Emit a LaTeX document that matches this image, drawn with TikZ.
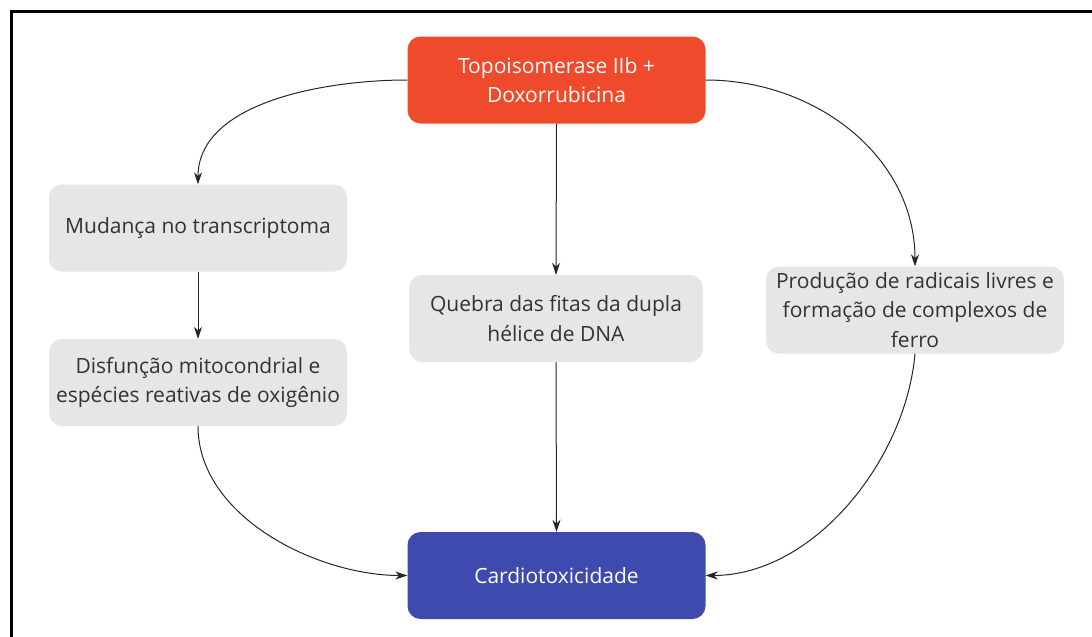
\documentclass[tikz,border=0pt]{standalone}
\usepackage{fontspec}
\setmainfont{Open Sans}
\usetikzlibrary{arrows.meta}
\definecolor{topred}{HTML}{EE4A2B}
\definecolor{botblue}{HTML}{3F4AAF}
\definecolor{boxgray}{HTML}{E4E6E7}
\definecolor{txtgray}{HTML}{333333}
\tikzset{
  box/.style={rounded corners=13pt, minimum width=298pt, minimum height=87pt, align=center, inner sep=1pt, font=\fontsize{21}{29.5}\selectfont},
  graybox/.style={box, fill=boxgray, text=txtgray},
  redbox/.style={box, fill=topred, text=white},
  bluebox/.style={box, fill=botblue, text=white},
  conn/.style={draw=black!85, line width=1pt, -{Stealth[length=12pt,width=8pt]}},
}
\begin{document}
\begin{tikzpicture}[x=1pt,y=-1pt]
\useasboundingbox (0,0) rectangle (1092,637);
\draw[line width=3pt] (11,637) -- (11,11) -- (1092,11);
\node[redbox] (top) at (556.5,80) {Topoisomerase IIb +\\Doxorrubicina};
\node[graybox] (l1) at (198,228) {Mudança no transcriptoma};
\node[graybox] (l2) at (198,382.5) {Disfunção mitocondrial e\\espécies reativas de oxigênio};
\node[graybox, minimum width=294pt] (m) at (556,318.5) {Quebra das fitas da dupla\\hélice de DNA};
\node[graybox, inner sep=0pt] (r) at (915,310) {Produção de radicais livres e\\formação de complexos de\\ferro};
\node[bluebox] (bot) at (556.5,575.5) {Cardiotoxicidade};
\draw[conn] (top.west) to[out=180,in=90,looseness=0.9] (l1.north);
\draw[conn] (top.east) to[out=0,in=90,looseness=1.0] (r.north);
\draw[conn] (top.south) -- (m.north);
\draw[conn] (l1.south) -- (l2.north);
\draw[conn] (m.south) -- (bot.north);
\draw[conn] (l2.south) to[out=-90,in=180,looseness=0.9] (bot.west);
\draw[conn] (r.south) to[out=-95,in=0,looseness=0.9] (bot.east);
\end{tikzpicture}
\end{document}
